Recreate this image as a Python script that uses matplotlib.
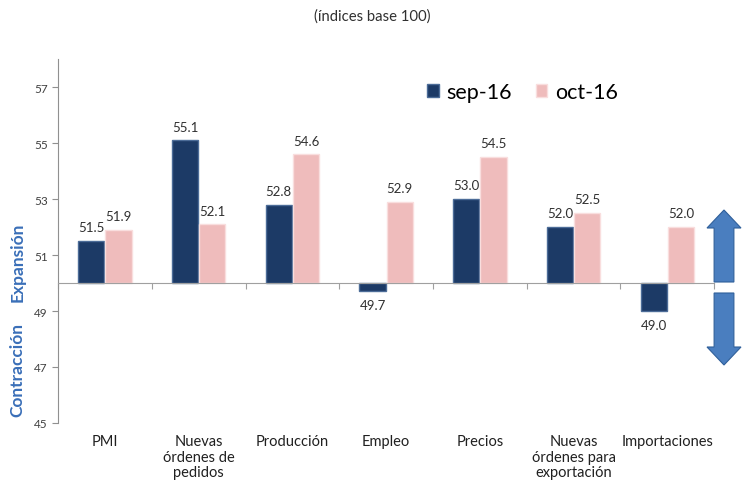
import matplotlib
matplotlib.use("Agg")
import matplotlib.pyplot as plt
import numpy as np
from matplotlib.patches import FancyArrow

plt.rcParams['font.family'] = ['Lato', 'DejaVu Sans']

categories = ["PMI", "Nuevas\nórdenes de\npedidos", "Producción", "Empleo", "Precios",
              "Nuevas\nórdenes para\nexportación", "Importaciones"]
sep16 = [51.5, 55.1, 52.8, 49.7, 53.0, 52.0, 49.0]
oct16 = [51.9, 52.1, 54.6, 52.9, 54.5, 52.5, 52.0]
series_names = ["sep-16", "oct-16"]
yticks = [45, 47, 49, 51, 53, 55, 57]
base = 50

dark = "#1C3A66"
dark_edge = "#4C6C98"
pink = "#EFBCBC"
pink_edge = "#F9DEDE"

fig = plt.figure(figsize=(7.44, 4.89), dpi=100)
ax = fig.add_axes([0.078, 0.133, 0.882, 0.744])

x = np.arange(len(categories))
w = 0.28
off = 0.145
b1 = ax.bar(x - off, np.array(sep16) - base, w, bottom=base, color=dark,
            edgecolor=dark_edge, linewidth=1, zorder=3)
b2 = ax.bar(x + off, np.array(oct16) - base, w, bottom=base, color=pink,
            edgecolor=pink_edge, linewidth=1, zorder=3)

for xs, vals in ((x - off, sep16), (x + off, oct16)):
    for xi, v in zip(xs, vals):
        if v >= base:
            ax.annotate(f"{v:.1f}", (xi, v), xytext=(0, 5.5), textcoords="offset points",
                        ha="center", va="bottom", fontsize=9.5, color="#303030")
        else:
            ax.annotate(f"{v:.1f}", (xi, v), xytext=(0, -5.5), textcoords="offset points",
                        ha="center", va="top", fontsize=9.5, color="#303030")

ax.set_xlim(-0.5, len(categories) - 0.5)
ax.set_ylim(45, 58)
ax.set_yticks(yticks)
ax.tick_params(axis="y", labelsize=8.5, labelcolor="#404040", color="#909090",
               length=4, width=0.8)
for s in ("top", "right"):
    ax.spines[s].set_visible(False)
ax.spines["left"].set_color("#909090")
ax.spines["bottom"].set_position(("data", base))
ax.spines["bottom"].set_color("#A0A0A0")
ax.spines["bottom"].set_zorder(4)
ax.set_xticks(np.arange(len(categories) + 1) - 0.5)
ax.set_xticklabels([])
ax.tick_params(axis="x", color="#A0A0A0", length=4, width=0.8, direction="out")

for xi, lab in zip(x, categories):
    ax.annotate(lab, (xi, 45), xytext=(0, -8), textcoords="offset points",
                ha="center", va="top", fontsize=10.5, color="#202020", linespacing=1.15,
                annotation_clip=False)

leg = ax.legend([b1, b2], series_names, loc="center left",
                bbox_to_anchor=(0.548, 0.81), bbox_transform=fig.transFigure,
                ncol=2, frameon=False, fontsize=15.5, handlelength=0.55,
                handleheight=0.55, handletextpad=0.35, columnspacing=1.1)

fig.text(0.5, 0.967, "(índices base 100)", ha="center", va="center", fontsize=10.7,
         color="#303030")

blue_txt = "#3A6FB8"
fig.text(0.024, 0.464, "Expansión", rotation=90, ha="center", va="center",
         fontsize=12.5, fontweight="bold", color=blue_txt)
fig.text(0.024, 0.243, "Contracción", rotation=90, ha="center", va="center",
         fontsize=12.5, fontweight="bold", color=blue_txt)

W, H = 744, 489
def fx(px):
    return px / W
def fy(py):
    return 1 - py / H

arrow_col = "#4A7EBF"
arrow_edge = "#2F5F9A"
up = FancyArrow(fx(724), fy(283), 0, fy(211) - fy(283), width=13 / H,
                head_width=fx(34), head_length=18 / H, length_includes_head=True,
                transform=fig.transFigure, color=arrow_col, ec=arrow_edge, lw=0.8)
down = FancyArrow(fx(724), fy(294), 0, fy(366) - fy(294), width=13 / H,
                  head_width=fx(34), head_length=18 / H, length_includes_head=True,
                  transform=fig.transFigure, color=arrow_col, ec=arrow_edge, lw=0.8)
fig.patches.extend([up, down])

fig.savefig("out.png", dpi=100)
